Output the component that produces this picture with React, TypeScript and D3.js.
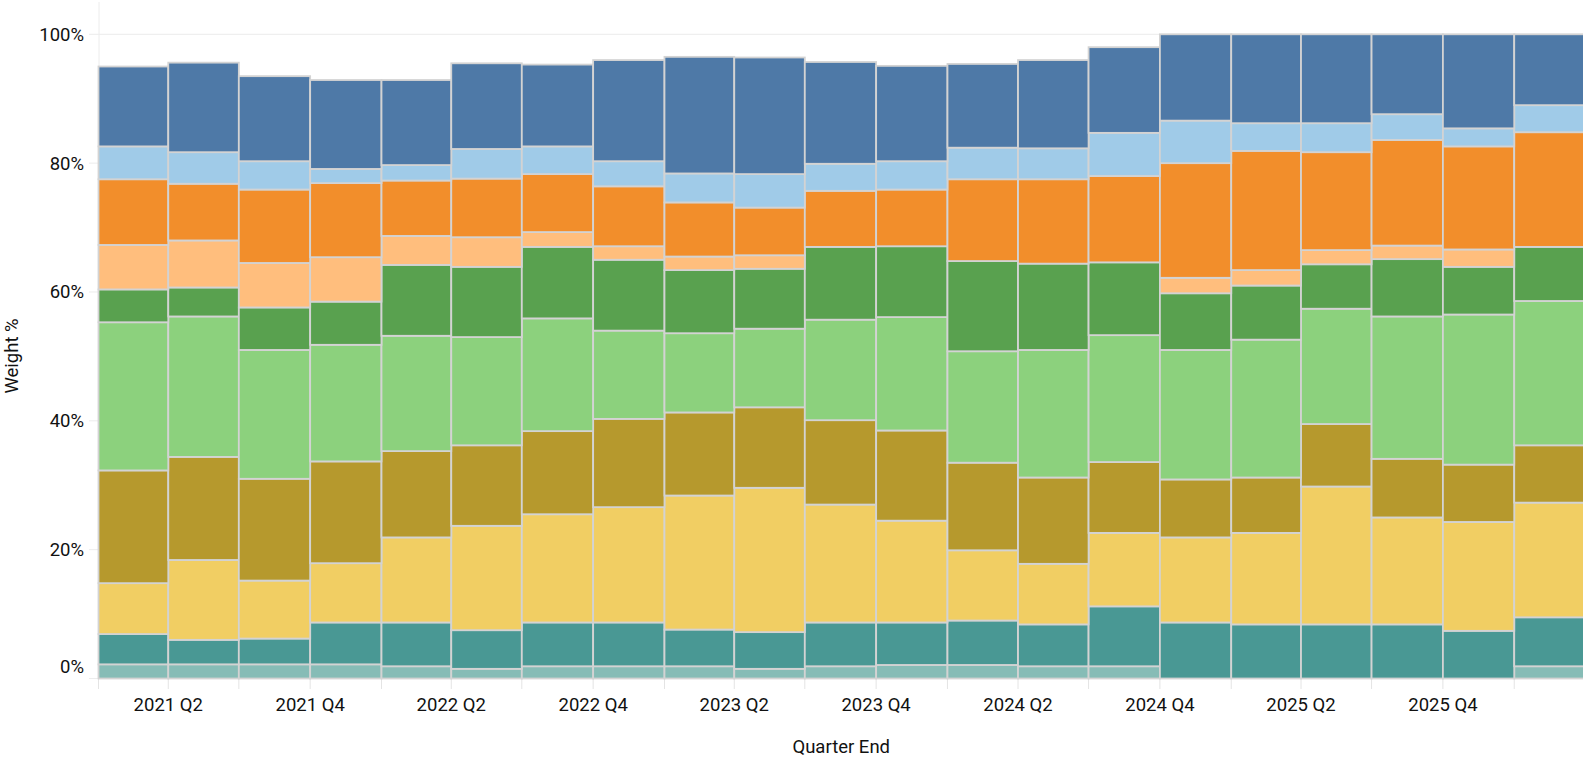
import React, { useEffect, useRef } from 'react'
import { select, scaleUtc, scaleLinear, stack } from 'd3'

// quarters shown as bars (each bar spans the whole quarter)
const quarters = [
  '2021 Q1', '2021 Q2', '2021 Q3', '2021 Q4',
  '2022 Q1', '2022 Q2', '2022 Q3', '2022 Q4',
  '2023 Q1', '2023 Q2', '2023 Q3', '2023 Q4',
  '2024 Q1', '2024 Q2', '2024 Q3', '2024 Q4',
  '2025 Q1', '2025 Q2', '2025 Q3', '2025 Q4',
  '2026 Q1',
]

// weights in %, bottom of the stack first
const lightTeal = [2.2, 2.2, 2.2, 2.2, 1.9, 1.5, 1.9, 1.9, 1.9, 1.5, 1.9, 2.1, 2.1, 1.9, 1.9, 0, 0, 0, 0, 0, 1.9]
const teal = [4.7, 3.8, 4.0, 6.5, 6.8, 6.0, 6.8, 6.8, 5.7, 5.7, 6.8, 6.6, 6.9, 6.5, 9.3, 8.7, 8.4, 8.4, 8.4, 7.4, 7.6]
const yellow = [7.9, 12.4, 9.0, 9.2, 13.2, 16.2, 16.8, 17.9, 20.8, 22.4, 18.3, 15.8, 10.9, 9.4, 11.4, 13.2, 14.2, 21.4, 16.6, 16.9, 17.8]
const olive = [17.5, 16.0, 15.8, 15.8, 13.4, 12.5, 12.9, 13.7, 12.9, 12.5, 13.1, 14.0, 13.6, 13.4, 11.0, 9.0, 8.6, 9.7, 9.1, 8.9, 8.9]
const lightGreen = [23.0, 21.8, 20.0, 18.1, 17.9, 16.8, 17.5, 13.7, 12.3, 12.2, 15.6, 17.6, 17.3, 19.8, 19.7, 20.1, 21.4, 17.9, 22.1, 23.3, 22.4]
const green = [5.1, 4.5, 6.6, 6.7, 11.0, 10.9, 11.1, 11.0, 9.8, 9.3, 11.3, 11.0, 14.0, 13.4, 11.3, 8.8, 8.4, 6.9, 8.9, 7.4, 8.4]
const lightOrange = [6.9, 7.3, 6.9, 6.9, 4.5, 4.6, 2.3, 2.1, 2.1, 2.1, 0, 0, 0, 0, 0, 2.4, 2.4, 2.2, 2.1, 2.7, 0]
const orange = [10.2, 8.8, 11.4, 11.5, 8.6, 9.1, 9.0, 9.3, 8.4, 7.4, 8.7, 8.8, 12.7, 13.1, 13.4, 17.8, 18.5, 15.2, 16.4, 16.0, 17.8]
const lightBlue = [5.1, 4.9, 4.4, 2.2, 2.4, 4.6, 4.3, 3.9, 4.5, 5.2, 4.2, 4.4, 4.9, 4.8, 6.7, 6.6, 4.3, 4.5, 4.0, 2.8, 4.2]
const blue = [12.4, 13.9, 13.2, 13.8, 13.2, 13.3, 12.7, 15.7, 18.1, 18.1, 15.8, 14.8, 13.0, 13.7, 13.3, 13.4, 13.8, 13.8, 12.4, 14.6, 11.0]

const seriesKeys = ['lightTeal', 'teal', 'yellow', 'olive', 'lightGreen', 'green', 'lightOrange', 'orange', 'lightBlue', 'blue']
const seriesValues = [lightTeal, teal, yellow, olive, lightGreen, green, lightOrange, orange, lightBlue, blue]
const seriesColors = ['#86bcb6', '#499894', '#f1ce63', '#b6992d', '#8cd17d', '#59a14f', '#ffbe7d', '#f28e2b', '#a0cbe8', '#4e79a7']

const xTickLabels = ['2021 Q2', '2021 Q4', '2022 Q2', '2022 Q4', '2023 Q2', '2023 Q4', '2024 Q2', '2024 Q4', '2025 Q2', '2025 Q4']
const yTicks = [0, 20, 40, 60, 80, 100]

function quarterStart(label: string) {
  const [y, q] = label.split(' Q')
  return new Date(Date.UTC(+y, (+q - 1) * 3, 1))
}
function nextQuarter(d: Date) {
  return new Date(Date.UTC(d.getUTCFullYear(), d.getUTCMonth() + 3, 1))
}

function App() {
  const svgRef = useRef<SVGSVGElement>(null)

  const width = 1583
  const height = 761
  const font = 'Roboto, sans-serif'

  useEffect(() => {
    document.body.style.margin = '0'
    const svg = select(svgRef.current)
    svg.selectAll('*').remove()

    const rows = quarters.map((q, i) => {
      const row: any = { start: quarterStart(q) }
      row.end = nextQuarter(row.start)
      seriesKeys.forEach((k, j) => { row[k] = seriesValues[j][i] })
      return row
    })

    const xScale = scaleUtc()
      .domain([rows[0].start, rows[rows.length - 1].end])
      .range([98.5, 1584])
    const yScale = scaleLinear().domain([0, 100]).range([678.5, 34.3])

    // grid
    const grid = svg.append('g')
    grid.selectAll('line.grid')
      .data(yTicks)
      .join('line')
      .attr('x1', 89)
      .attr('x2', width)
      .attr('y1', d => yScale(d))
      .attr('y2', d => yScale(d))
      .attr('stroke', '#ececec')
    grid.append('line')
      .attr('x1', 99).attr('x2', 99)
      .attr('y1', 2).attr('y2', 679)
      .attr('stroke', '#ececec')

    // x ticks, one per quarter
    const tickDates = rows.map(r => r.start).concat([rows[rows.length - 1].end])
    grid.selectAll('line.xtick')
      .data(tickDates)
      .join('line')
      .attr('x1', d => xScale(d))
      .attr('x2', d => xScale(d))
      .attr('y1', 679)
      .attr('y2', 689)
      .attr('stroke', '#e4e4e4')

    // stacked bars
    const stacked = stack().keys(seriesKeys)(rows)
    stacked.forEach((layer, j) => {
      svg.append('g')
        .selectAll('rect')
        .data(layer.filter(d => d[1] - d[0] > 0))
        .join('rect')
        .attr('x', d => xScale((d as any).data.start))
        .attr('width', d => xScale((d as any).data.end) - xScale((d as any).data.start))
        .attr('y', d => yScale(d[1]))
        .attr('height', d => yScale(d[0]) - yScale(d[1]))
        .attr('fill', seriesColors[j])
        .attr('stroke', '#d3d3d3')
        .attr('stroke-width', 1.8)
    })

    // y labels
    svg.append('g')
      .selectAll('text')
      .data(yTicks)
      .join('text')
      .attr('x', 84)
      .attr('y', d => (d === 0 ? 672.5 : yScale(d) + 6.5))
      .attr('text-anchor', 'end')
      .attr('font-family', font)
      .attr('font-size', 18.5)
      .attr('fill', '#111')
      .text(d => `${d}%`)

    // x labels
    svg.append('g')
      .selectAll('text')
      .data(xTickLabels)
      .join('text')
      .attr('x', d => xScale(quarterStart(d)))
      .attr('y', 711)
      .attr('text-anchor', 'middle')
      .attr('font-family', font)
      .attr('font-size', 18.5)
      .attr('fill', '#111')
      .text(d => d)

    svg.append('text')
      .attr('x', (xScale.range()[0] + xScale.range()[1]) / 2)
      .attr('y', 753)
      .attr('text-anchor', 'middle')
      .attr('font-family', font)
      .attr('font-size', 18.5)
      .attr('fill', '#111')
      .text('Quarter End')

    svg.append('text')
      .attr('transform', `translate(18, 356) rotate(-90)`)
      .attr('text-anchor', 'middle')
      .attr('font-family', font)
      .attr('font-size', 18.5)
      .attr('fill', '#111')
      .text('Weight %')
  }, [])

  return (
    <div style={{ position: 'absolute', left: 0, top: 0, width, height, overflow: 'hidden' }}>
      <svg ref={svgRef} width={width} height={height} style={{ display: 'block', background: '#fff' }}></svg>
    </div>
  )
}

export default App
